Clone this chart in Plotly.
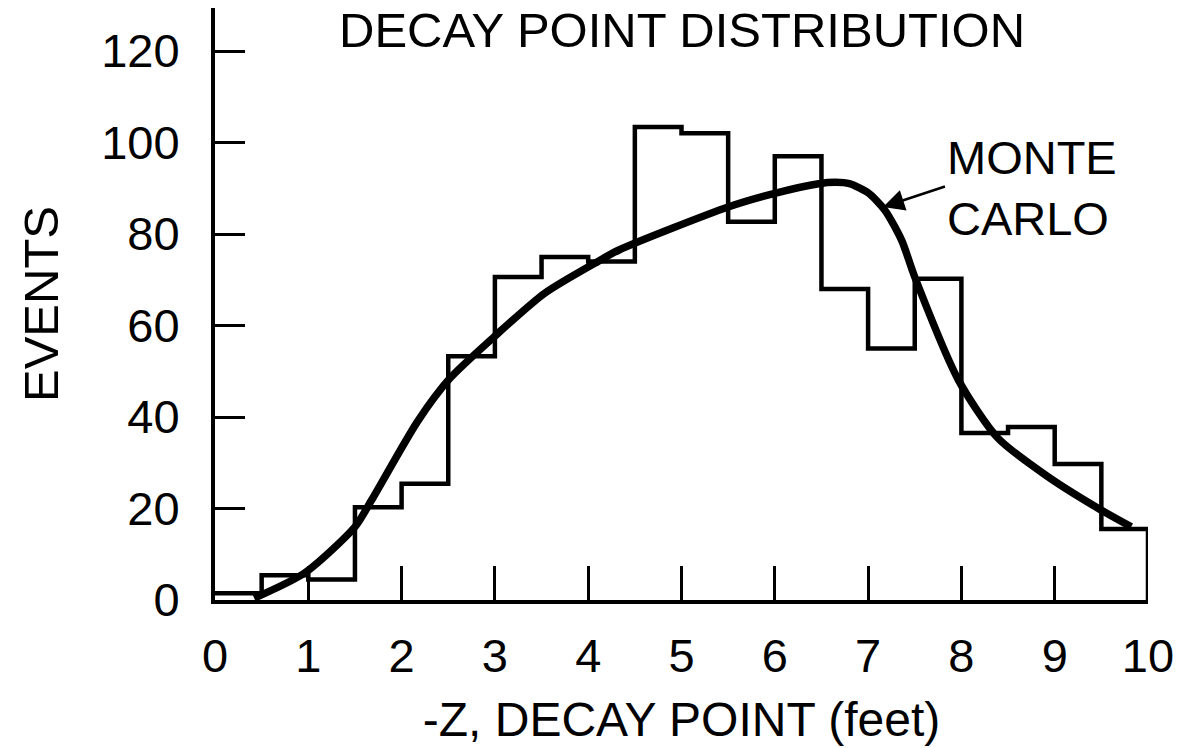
import plotly.graph_objects as go

# Histogram (bin width 0.5 ft)
bin_edges = [0.0, 0.5, 1.0, 1.5, 2.0, 2.5, 3.0, 3.5, 4.0, 4.5, 5.0,
             5.5, 6.0, 6.5, 7.0, 7.5, 8.0, 8.5, 9.0, 9.5, 10.0]
counts = [1.5, 5.4, 4.5, 20.3, 25.4, 53.3, 70.6, 75, 74, 103.4,
          102, 82.7, 97, 68, 55, 70.2, 36.5, 37.8, 29.7, 15.5]

# Monte Carlo curve
mc_x = [0.42, 0.96, 1.5, 1.68, 2.17, 2.52, 2.99, 3.53, 4.07, 4.33, 5.5,
        6.0, 6.47, 6.65, 6.8, 7.0, 7.18, 7.36, 7.5, 7.97, 8.39, 8.93, 9.46, 9.82]
mc_y = [0.4, 5.9, 16, 21.9, 39, 48.5, 57.5, 67, 73.6, 76.5, 85.9,
        88.9, 91.0, 91.3, 91.0, 89, 85.2, 78.6, 70.6, 48, 35.4, 26.9, 20.1, 16]

x_ticks = [0, 1, 2, 3, 4, 5, 6, 7, 8, 9, 10]
y_ticks = [0, 20, 40, 60, 80, 100, 120]

FONT = "Liberation Sans, Arial, sans-serif"

fig = go.Figure()

# histogram step outline
step_x = bin_edges + [bin_edges[-1]]
step_y = counts + [counts[-1], 0]
fig.add_trace(go.Scatter(x=step_x, y=step_y, mode="lines",
                         line=dict(color="black", width=4.5, shape="hv"),
                         hoverinfo="skip", showlegend=False))

fig.add_trace(go.Scatter(x=mc_x, y=mc_y, mode="lines",
                         line=dict(color="black", width=7.5, shape="spline", smoothing=0.7),
                         showlegend=False))

fig.add_annotation(x=7.16, y=85.9, xref="x", yref="y", ax=7.84, ay=90.5,
                   axref="x", ayref="y", text="", showarrow=True, standoff=0,
                   arrowhead=2, arrowsize=1.7, arrowwidth=2.5, arrowcolor="black")
fig.add_annotation(x=7.82, y=90, xref="x", yref="y", text="MONTE<br>CARLO",
                   showarrow=False, align="left", xanchor="left", yanchor="middle",
                   font=dict(family=FONT, size=47, color="black"))

fig.add_annotation(x=0.5, y=1.0, xref="paper", yref="paper", yshift=7,
                   text="DECAY POINT DISTRIBUTION", showarrow=False,
                   xanchor="center", yanchor="top",
                   font=dict(family=FONT, size=49, color="black"))

fig.update_layout(
    width=1182, height=748,
    margin=dict(l=215, r=34, t=8, b=148),
    paper_bgcolor="white", plot_bgcolor="white",
    font=dict(family=FONT, color="black"),
    xaxis=dict(range=[0, 10], tickvals=x_ticks, ticktext=[str(v) for v in x_ticks],
               ticks="inside", ticklen=34, tickwidth=3, tickcolor="black",
               showline=True, linecolor="black", linewidth=4, showgrid=False,
               zeroline=False, tickfont=dict(family=FONT, size=47),
               ticklabelstandoff=12,
               title=dict(text="-Z, DECAY POINT (feet)",
                          font=dict(family=FONT, size=48), standoff=22)),
    yaxis=dict(range=[0, 129.4], tickvals=y_ticks, ticktext=[str(v) for v in y_ticks],
               ticks="inside", ticklen=30, tickwidth=3, tickcolor="black",
               showline=True, linecolor="black", linewidth=4, showgrid=False,
               zeroline=False, tickfont=dict(family=FONT, size=47),
               ticklabelstandoff=22,
               title=dict(text="EVENTS", font=dict(family=FONT, size=49), standoff=28)),
)

fig.write_html("out.html", config={"displayModeBar": False},
               post_script="document.body.style.margin='0px';")
